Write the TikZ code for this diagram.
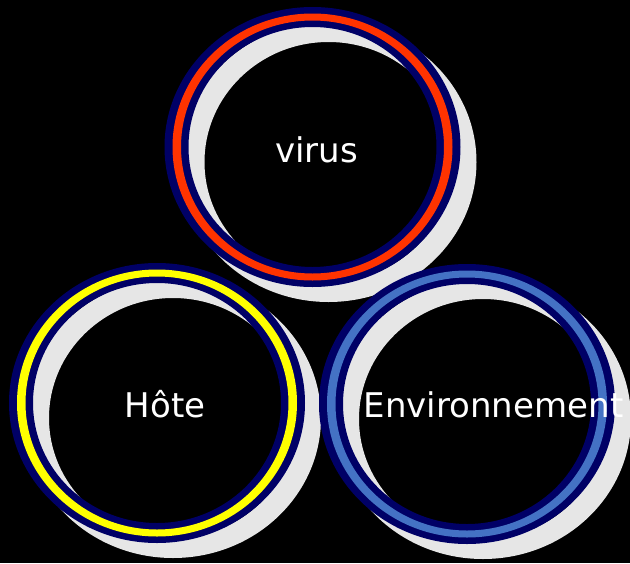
\documentclass[tikz,border=0pt]{standalone}
\usepackage{fontspec}
\setmainfont{DejaVu Sans}
\definecolor{ringnavy}{HTML}{000066}
\definecolor{ringred}{HTML}{FF3300}
\definecolor{ringyellow}{HTML}{FFFF00}
\definecolor{ringblue}{HTML}{4472C4}
\definecolor{shadowgray}{HTML}{E6E6E6}
\tikzset{
  label text/.style={text=white, font=\fontsize{34}{40}\selectfont, anchor=base, inner sep=0pt},
}
% #1 centre coordinate name, #2 colour of the middle band
\newcommand\RingDraw[2]{%
  \fill[shadowgray, even odd rule] ([shift={(16,15)}]#1) ellipse [x radius=148pt, y radius=140pt]
        ([shift={(16,15)}]#1) ellipse [x radius=124pt, y radius=120pt];
  \fill[ringnavy, even odd rule] (#1) ellipse [x radius=148pt, y radius=140pt]
        (#1) ellipse [x radius=124pt, y radius=120pt];
  \fill[#2, even odd rule] (#1) ellipse [x radius=140pt, y radius=133.5pt]
        (#1) ellipse [x radius=131.5pt, y radius=126.5pt];
}
\begin{document}
\begin{tikzpicture}[x=1pt, y=-1pt]
  \useasboundingbox (0,0) rectangle (630,563);
  \fill[black] (0,0) rectangle (630,563);
  \coordinate (cvirus) at (312.5,147);
  \coordinate (chote) at (157,403);
  \coordinate (cenv) at (467,404);
  \RingDraw{cvirus}{ringred}
  \RingDraw{chote}{ringyellow}
  \RingDraw{cenv}{ringblue}
  \node[label text] (virus) at (316.5,162) {virus};
  \node[label text] (hote) at (165,417) {Hôte};
  \node[label text] (env) at (493.5,417) {Environnement};
\end{tikzpicture}
\end{document}
